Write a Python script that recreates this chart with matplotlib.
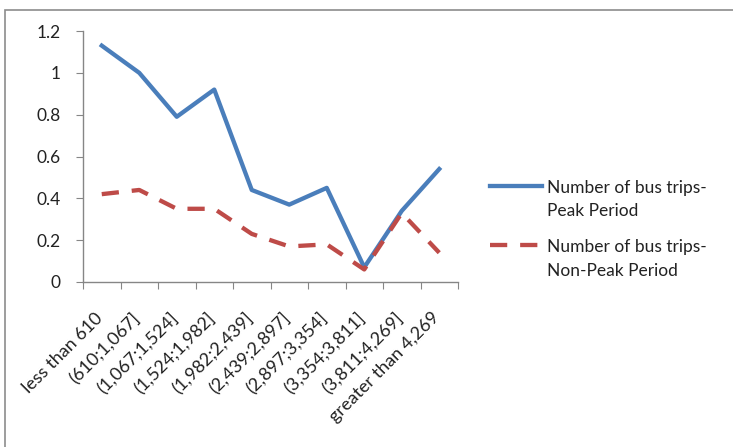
import matplotlib

matplotlib.use("Agg")
import matplotlib.pyplot as plt
from matplotlib.patches import Rectangle
from matplotlib.ticker import FuncFormatter
from matplotlib.transforms import ScaledTranslation

plt.rcParams["font.family"] = ["Lato", "DejaVu Sans"]

# distance bands (m) and ratio of bus trips per band
bands = ["less than 610", "(610;1,067]", "(1,067;1,524]", "(1,524;1,982]",
         "(1,982;2,439]", "(2,439;2,897]", "(2,897;3,354]", "(3,354;3,811]",
         "(3,811;4,269]", "greater than 4,269"]
peak = [1.13, 1.00, 0.79, 0.92, 0.44, 0.37, 0.45, 0.07, 0.34, 0.54]
non_peak = [0.42, 0.44, 0.35, 0.35, 0.23, 0.17, 0.18, 0.06, 0.33, 0.14]
y_ticks = [0, 0.2, 0.4, 0.6, 0.8, 1.0, 1.2]

BLUE = "#4a7ebb"
RED = "#be4b48"
AXIS = "#868686"
TXT = "#222222"

W, H = 733, 447
fig = plt.figure(figsize=(W / 100, H / 100), dpi=100)

# outer chart frame (only left/top edges are inside the page crop)
fig.patches.append(Rectangle((5 / W, -0.05), 1.2, 1 - 10 / H + 0.05,
                             transform=fig.transFigure, fill=False,
                             edgecolor="#8c8c8c", linewidth=1.2))

ax = fig.add_axes([83 / W, 1 - 282 / H, (458 - 83) / W, (282 - 31) / H])
x = [i + 0.5 for i in range(len(bands))]
ax.plot(x, peak, color=BLUE, linewidth=3.1, solid_joinstyle="round",
        label="Number of bus trips-\nPeak Period")
ax.plot(x, non_peak, color=RED, linewidth=3.1, dashes=(4.0, 3.0),
        label="Number of bus trips-\nNon-Peak Period")

ax.set_xlim(0, len(bands))
ax.set_ylim(0, 1.2)
ax.set_yticks(y_ticks)
ax.yaxis.set_major_formatter(FuncFormatter(lambda v, _: f"{v:g}"))

# boundary ticks, category labels centred between them
ax.set_xticks(range(len(bands) + 1))
ax.set_xticklabels([])
ax.set_xticks(x, minor=True)
ax.set_xticklabels(bands, minor=True, rotation=45, ha="right", va="center",
                   rotation_mode="anchor", fontsize=13, color=TXT)
ax.tick_params(axis="x", which="minor", length=0, pad=24)
ax.tick_params(axis="x", which="major", length=5, color=AXIS)
ax.tick_params(axis="y", length=5, color=AXIS, pad=11, labelsize=12.5,
               labelcolor=TXT)
shift = ScaledTranslation(-2 / 100, 0, fig.dpi_scale_trans)
for t in ax.get_xticklabels(minor=True):
    t.set_transform(t.get_transform() + shift)

for s in ("top", "right"):
    ax.spines[s].set_visible(False)
for s in ("left", "bottom"):
    ax.spines[s].set_color(AXIS)
    ax.spines[s].set_linewidth(1.0)

leg = fig.legend(loc="upper left", bbox_to_anchor=(474 / W, 1 - 164 / H),
                 frameon=False, fontsize=12.5, handlelength=3.0,
                 handletextpad=0.3, labelspacing=1.15, labelcolor=TXT)
for t in leg.get_texts():
    t.set_linespacing(1.6)
# handle sits level with the first line of each two-line label
for column in leg._legend_handle_box.get_children():
    for row in column.get_children():
        row.align = "top"

fig.savefig("out.png", dpi=100)
